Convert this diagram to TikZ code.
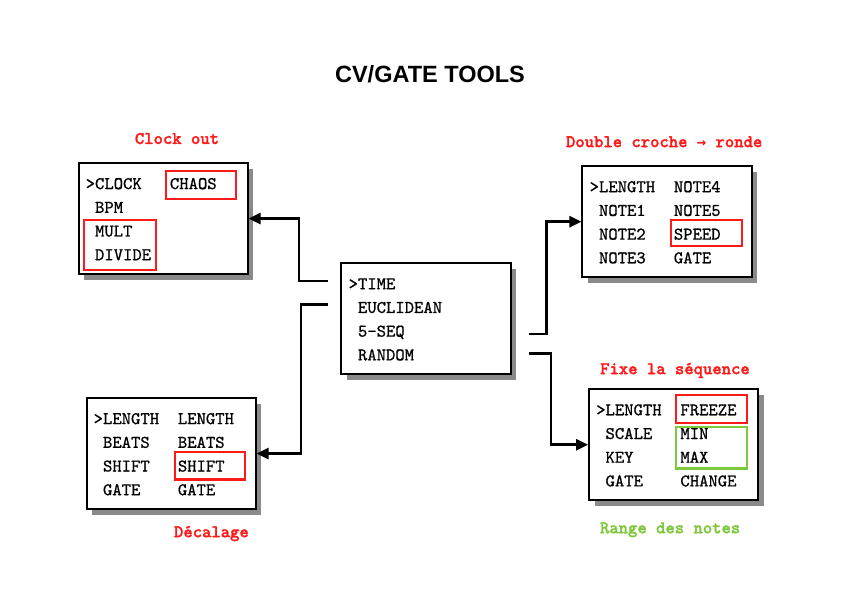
\documentclass[tikz,border=0pt]{standalone}
\usepackage{fontspec}
\newfontfamily\titlefont{Liberation Sans}
\newfontfamily\itemfont{lmmono10-regular.otf}[FakeBold=0.8]
\newfontfamily\tagfont{lmmonolt10-bold.otf}[FakeBold=1.6]
\newfontfamily\arrowfont{DejaVu Sans Mono}
\usetikzlibrary{arrows.meta, calc, shadows}
\definecolor{hlred}{HTML}{FF1A1A}
\definecolor{hlgreen}{HTML}{7DC83C}
\definecolor{shade}{HTML}{8A8A8A}

\tikzset{
  menubox/.style={draw, line width=2pt, fill=white,
    minimum width=5.94cm, minimum height=3.9cm,
    drop shadow={shadow xshift=5.5pt, shadow yshift=-5.5pt, fill=shade, opacity=1}},
  item/.style={anchor=base west, inner sep=0pt,
    font=\itemfont\fontsize{17.8}{24}\selectfont},
  tag/.style={anchor=base, inner sep=0pt, text=hlred,
    font=\tagfont\fontsize{17.8}{24}\selectfont},
  hl/.style={draw=hlred, line width=2.2pt},
  conn/.style={-{Triangle[length=12pt, width=11pt]}, line width=2.6pt},
}

\begin{document}
\begin{tikzpicture}

\useasboundingbox (0,0) rectangle (29.59,20.95);

% Title
\node[anchor=base, font=\titlefont\bfseries\fontsize{23.5}{28}\selectfont] (title) at (15.11,18.06) {CV/GATE TOOLS};

%% Menu boxes
\node[menubox] (clockmenu) at (5.73,13.27) {};
\node[menubox] (mainmenu) at (14.97,9.75) {};
\node[menubox] (seqmenu) at (23.44,13.16) {};
\node[menubox] (euclidmenu) at (6.01,5.01) {};
\node[menubox] (randmenu) at (23.67,5.32) {};

% Main menu
\foreach \txt [count=\i] in {>TIME, \ EUCLIDEAN, \ 5-SEQ, \ RANDOM}
  \node[item] (main-l\i) at ($(mainmenu.north west)+(0.28,{-0.95-0.833*(\i-1)})$) {\txt};

% Clock menu
\foreach \txt [count=\i] in {>CLOCK, \ BPM, \ MULT, \ DIVIDE}
  \node[item] (clk-l\i) at ($(clockmenu.north west)+(0.28,{-0.95-0.833*(\i-1)})$) {\txt};
\node[item] (clk-r1) at ($(clockmenu.north west)+(3.24,-0.95)$) {CHAOS};

% 5-step sequencer menu
\foreach \txt [count=\i] in {>LENGTH, \ NOTE1, \ NOTE2, \ NOTE3}
  \node[item] (seq-l\i) at ($(seqmenu.north west)+(0.28,{-0.95-0.833*(\i-1)})$) {\txt};
\foreach \txt [count=\i] in {NOTE4, NOTE5, SPEED, GATE}
  \node[item] (seq-r\i) at ($(seqmenu.north west)+(3.24,{-0.95-0.833*(\i-1)})$) {\txt};

% Euclidean menu
\foreach \txt [count=\i] in {>LENGTH, \ BEATS, \ SHIFT, \ GATE}
  \node[item] (euc-l\i) at ($(euclidmenu.north west)+(0.28,{-0.95-0.833*(\i-1)})$) {\txt};
\foreach \txt [count=\i] in {LENGTH, BEATS, SHIFT, GATE}
  \node[item] (euc-r\i) at ($(euclidmenu.north west)+(3.24,{-0.95-0.833*(\i-1)})$) {\txt};

% Random menu
\foreach \txt [count=\i] in {>LENGTH, \ SCALE, \ KEY, \ GATE}
  \node[item] (rnd-l\i) at ($(randmenu.north west)+(0.28,{-0.95-0.833*(\i-1)})$) {\txt};
\foreach \txt [count=\i] in {FREEZE, MIN, MAX, CHANGE}
  \node[item] (rnd-r\i) at ($(randmenu.north west)+(3.24,{-0.95-0.833*(\i-1)})$) {\txt};

%% Highlights
\draw[hl] ($(clk-r1.base west)+(-0.14,-0.35)$) rectangle ++(2.47,0.98);
\draw[hl] ($(clk-l4.base west)+(-0.04,-0.34)$) rectangle ++(2.51,1.74);
\draw[hl] ($(seq-r3.base west)+(-0.10,-0.22)$) rectangle ++(2.51,0.90);
\draw[hl] ($(euc-r3.base west)+(-0.10,-0.28)$) rectangle ++(2.47,0.96);
\draw[hl] ($(rnd-r1.base west)+(-0.14,-0.26)$) rectangle ++(2.48,0.98);
\draw[hl, draw=hlgreen] ($(rnd-r3.base west)+(-0.14,-0.20)$) rectangle ++(2.48,1.45);

%% Labels
\node[tag] (clocktag) at (6.22,15.89) {Clock out};
\node[tag] (seqtag) at (23.34,15.78) {Double croche {\arrowfont\bfseries\fontsize{15.5}{24}\selectfont →} ronde};
\node[tag] (euctag) at (7.43,2.07) {Décalage};
\node[tag] (freezetag) at (23.72,7.80) {Fixe la séquence};
\node[tag, text=hlgreen] (rangetag) at (23.55,2.21) {Range des notes};

%% Connectors
\coordinate (s-time) at (11.53,11.08);
\coordinate (s-euc) at (11.53,10.25);
\coordinate (s-seq) at (18.60,9.21);
\coordinate (s-rnd) at (18.60,8.53);

\draw[conn] (s-time) -- ++(-1.02,0) |- (clockmenu.east);
\draw[conn] (s-euc) -- ++(-0.95,0) |- (euclidmenu.east);
\draw[conn] (s-seq) -- ++(0.61,0) |- (seqmenu.west);
\draw[conn] (s-rnd) -- ++(0.76,0) |- (randmenu.west);

\end{tikzpicture}
\end{document}
